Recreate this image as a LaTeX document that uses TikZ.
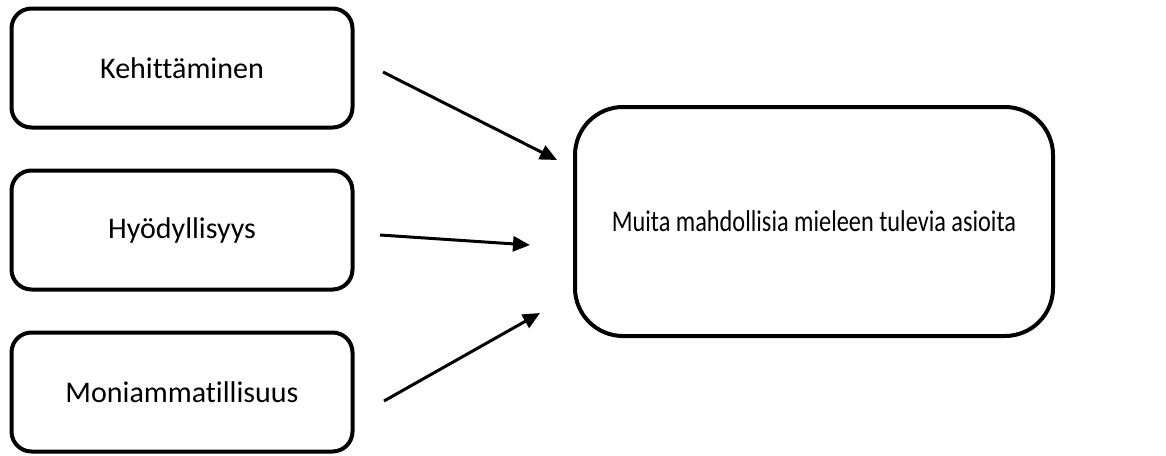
\documentclass[tikz,border=0pt]{standalone}
\usepackage{fontspec}
\setmainfont[Ligatures=NoCommon]{Carlito}
\newfontfamily\narrowfont[FakeStretch=0.81,Ligatures=NoCommon]{Carlito}
\usetikzlibrary{arrows.meta}

\tikzset{
  aspect/.style={draw, line width=4pt, rounded corners=20pt,
    minimum width=341pt, minimum height=119pt, font=\fontsize{30}{36}\selectfont},
  goal/.style={draw, line width=4pt, rounded corners=48pt,
    minimum width=478pt, minimum height=229pt, font=\narrowfont\fontsize{30}{36}\selectfont},
  link/.style={line width=3pt, -{Triangle[length=17pt,width=15pt]}}
}

\begin{document}
\begin{tikzpicture}[x=1pt,y=-1pt]
  \useasboundingbox (0,0) rectangle (1166,455);

  \node[aspect] (kehitys) at (182,68) {Kehittäminen};
  \node[aspect] (hyoty) at (182,230) {Hyödyllisyys};
  \node[aspect] (monia) at (182,392) {Moniammatillisuus};
  \node[goal] (muut) at (814,221.5) {\raisebox{-5pt}{Muita mahdollisia mieleen tulevia asioita}};

  \coordinate (k1) at (383,72);
  \coordinate (k2) at (557,160);
  \coordinate (h1) at (380,235);
  \coordinate (h2) at (530,245);
  \coordinate (m1) at (384,401);
  \coordinate (m2) at (540,313);

  \draw[link] (k1) -- (k2);
  \draw[link] (h1) -- (h2);
  \draw[link] (m1) -- (m2);
\end{tikzpicture}
\end{document}
